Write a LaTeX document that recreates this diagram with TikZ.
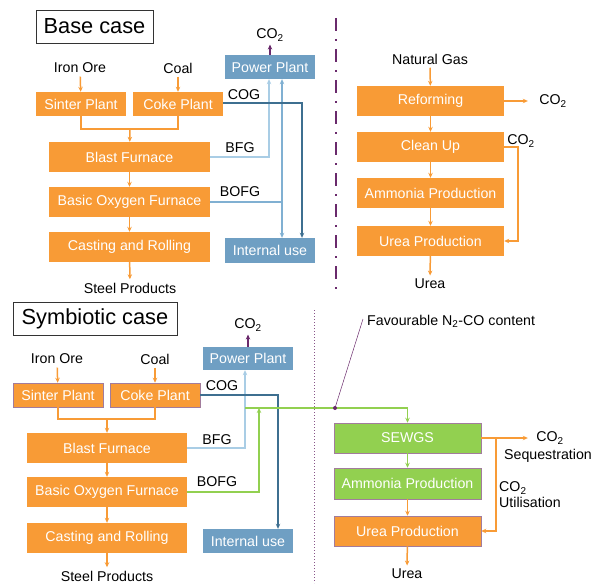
\documentclass[tikz,border=0pt]{standalone}
\usepackage{fontspec}
\setmainfont{Liberation Sans}
\usetikzlibrary{arrows.meta}
\definecolor{orbox}{HTML}{F89B36}
\definecolor{blbox}{HTML}{6F9FC3}
\definecolor{grbox}{HTML}{92D050}
\definecolor{edge}{HTML}{A27C9C}
\definecolor{cogcol}{HTML}{3E6F90}
\definecolor{bfgcol}{HTML}{A9CDE5}
\definecolor{bofcol}{HTML}{80B0D2}
\definecolor{purp}{HTML}{6A2A6C}
\newcommand{\cotwo}{CO\textsubscript{2}}
\begin{document}
\begin{tikzpicture}[x=1pt,y=-1pt,>={Stealth[length=5pt,width=4.5pt]},
  font=\fontsize{14.2}{16}\selectfont,
  proc/.style={fill=orbox,text=white,inner sep=0pt,minimum height=30pt},
  blue/.style={fill=blbox,text=white,inner sep=0pt,minimum width=90pt,minimum height=24pt},
  sym/.style={draw=edge,line width=0.5pt},
  title/.style={draw=black!80,line width=0.6pt,font=\fontsize{21.8}{24}\selectfont,inner sep=0pt},
  oline/.style={orbox,line width=1.5pt},
  gline/.style={grbox,line width=1.7pt}]
\useasboundingbox (0,0) rectangle (604,583);

% base case
\node[title,minimum width=117pt,minimum height=33pt] (basecase) at (94.5,26.5) {Base case};
\node (ironore1) at (80,68) {Iron Ore};
\node (coal1) at (178,68) {Coal};
\node[proc,minimum width=90pt,minimum height=24pt] (sinter1) at (81,104) {Sinter Plant};
\node[proc,minimum width=90pt,minimum height=24pt] (coke1) at (178,104) {Coke Plant};
\node[proc,minimum width=161pt] (bf1) at (129.5,157) {Blast Furnace};
\node[proc,minimum width=161pt] (bof1) at (129.5,202) {Basic Oxygen Furnace};
\node[proc,minimum width=161pt] (cast1) at (129.5,247) {Casting and Rolling};
\node (steel1) at (130,288) {Steel Products};
\node[blue] (pp1) at (270,67) {Power Plant};
\node (co2a) at (270,35) {\cotwo};
\node[blue,minimum height=25pt] (iu1) at (270,250.5) {Internal use};
\coordinate (m1) at (130,129);
\coordinate (j1) at (282,202);

\draw[oline,->] (ironore1) -- (sinter1);
\draw[oline,->] (coal1) -- (coke1);
\draw[oline] (sinter1.south) |- (m1) -| (coke1.south);
\draw[oline,->] (m1) -- (bf1);
\draw[oline,->] (bf1) -- (bof1);
\draw[oline,->] (bof1) -- (cast1);
\draw[oline,->] (cast1) -- (steel1);
\draw[purp,line width=1.6pt,->] (pp1) -- (co2a);
\draw[bfgcol,line width=1.7pt,->] (bf1.east) -| ([xshift=-1pt]pp1.south);
\draw[bofcol,line width=1.7pt] (bof1.east) -- (j1);
\draw[bofcol,line width=1.7pt,->] (j1) -- (pp1.south -| j1);
\draw[bofcol,line width=1.7pt,->] (j1) -- (iu1.north -| j1);
\draw[cogcol,line width=1.7pt,->] ([yshift=1pt]coke1.east) -| ([xshift=32pt]iu1.north);
\node (cog1) at (244,95) {COG};
\node (bfg1) at (240,148) {BFG};
\node (bofg1) at (240,192) {BOFG};

% ammonia / urea
\draw[purp,line width=1.5pt,dash pattern=on 13pt off 8pt on 2pt off 8pt] (336,18) -- (336,290);
\node (natgas) at (430,59) {Natural Gas};
\node[proc,minimum width=147pt] (ref) at (430.5,101) {Reforming};
\node[proc,minimum width=147pt] (clean) at (430.5,147) {Clean Up};
\node[proc,minimum width=147pt] (amm1) at (430.5,193) {Ammonia Production};
\node[proc,minimum width=147pt] (urea1) at (430.5,241) {Urea Production};
\node (ureatxt1) at (430,284) {Urea};
\node (co2b) at (553,101) {\cotwo};
\node (co2c) at (521,141) {\cotwo};
\draw[oline,->] (natgas) -- (ref);
\draw[oline,->] (ref) -- (clean);
\draw[oline,->] (clean) -- (amm1);
\draw[oline,->] (amm1) -- (urea1);
\draw[oline,->] (urea1) -- (ureatxt1);
\draw[oline,->] (ref.east) -- ([xshift=-8pt]co2b.west);
\draw[oline,->] (clean.east) -- ++(14,0) |- (urea1.east);

% symbiotic case
\node[title,minimum width=164pt,minimum height=33pt] (symcase) at (95,318.5) {Symbiotic case};
\node (ironore2) at (57,359) {Iron Ore};
\node (coal2) at (155,359) {Coal};
\node[proc,sym,minimum width=90pt,minimum height=24pt] (sinter2) at (58,395) {Sinter Plant};
\node[proc,sym,minimum width=90pt,minimum height=24pt] (coke2) at (155,395) {Coke Plant};
\node[proc,minimum width=160pt] (bf2) at (107,448) {Blast Furnace};
\node[proc,minimum width=160pt] (bof2) at (107,492) {Basic Oxygen Furnace};
\node[proc,minimum width=160pt] (cast2) at (107,538) {Casting and Rolling};
\node (steel2) at (107,576) {Steel Products};
\node[blue,minimum height=23pt] (pp2) at (248,358.5) {Power Plant};
\node (co2d) at (248,325) {\cotwo};
\node[blue] (iu2) at (248,541) {Internal use};
\coordinate (m2) at (107,419);
\coordinate (g0) at (245,408);
\coordinate (g1) at (259,408);
\coordinate (fav) at (335,408);

\draw[oline,->] (ironore2) -- (sinter2);
\draw[oline,->] (coal2) -- (coke2);
\draw[oline] (sinter2.south) |- (m2) -| (coke2.south);
\draw[oline,->] (m2) -- (bf2);
\draw[oline,->] (bf2) -- (bof2);
\draw[oline,->] (bof2) -- (cast2);
\draw[oline,->] (cast2) -- (steel2);
\draw[purp,line width=1.6pt,->] (pp2) -- (co2d);
\draw[bfgcol,line width=1.7pt,->] (bf2.east) -| ([xshift=-3pt]pp2.south);
\draw[cogcol,line width=1.7pt,->] (coke2.east) -| ([xshift=30pt]iu2.north);
\draw[gline,->] (bof2.east) -| (g1);
\node (cog2) at (222,386) {COG};
\node (bfg2) at (217,440) {BFG};
\node (bofg2) at (217,482) {BOFG};

\draw[purp!80,line width=1pt,dotted] (314,310) -- (314,583);
\node[proc,fill=grbox,sym,minimum width=147pt] (sewgs) at (407.5,438) {SEWGS};
\node[proc,fill=grbox,sym,minimum width=147pt,minimum height=31pt] (amm2) at (407.5,483.5) {Ammonia Production};
\node[proc,sym,minimum width=147pt] (urea2) at (407.5,531) {Urea Production};
\node (ureatxt2) at (407,574) {Urea};
\draw[gline,->] (g0) -| (sewgs.north);
\draw[gline,->] (sewgs) -- (amm2);
\draw[oline,->] (amm2) -- (urea2);
\draw[oline,->] (urea2) -- (ureatxt2);
\node[anchor=west,inner sep=0pt] (favtxt) at (367,321) {Favourable N\textsubscript{2}-CO content};
\draw[purp,line width=0.5pt] (fav) -- ([xshift=-4pt,yshift=2pt]favtxt.west);
\fill[purp] (fav) circle (2pt);
\node (co2e) at (550,438) {\cotwo};
\node (seq) at (548,456) {Sequestration};
\node[anchor=west,align=left,inner sep=0pt] (util) at (499,495) {\cotwo\\Utilisation};
\coordinate (b1) at (496,438);
\draw[oline,->] (sewgs.east) -- ([xshift=-5pt]co2e.west);
\draw[oline,->] (b1) |- (urea2.east);
\end{tikzpicture}
\end{document}
